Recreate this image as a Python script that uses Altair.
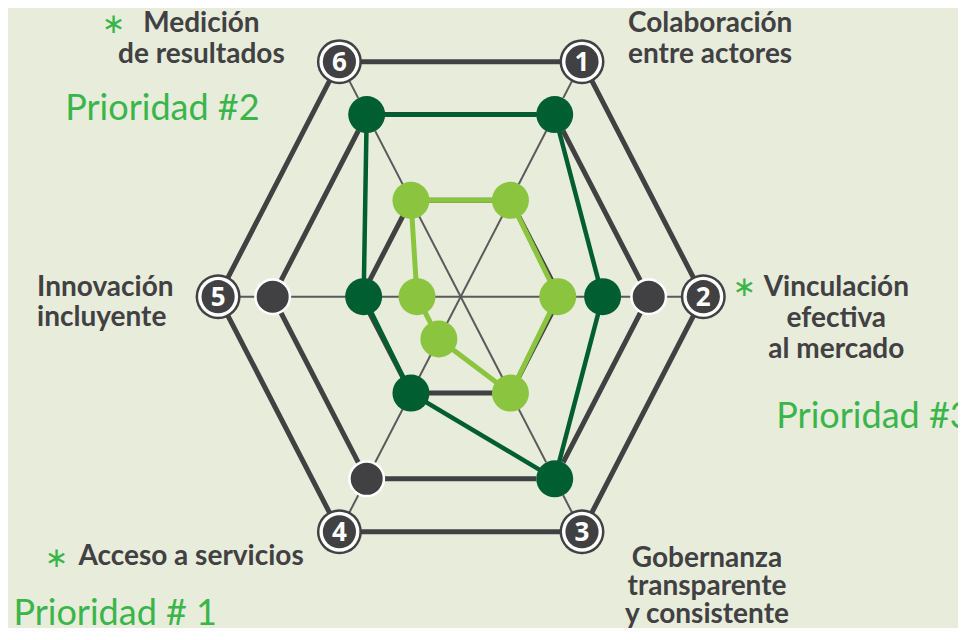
import altair as alt
import pandas as pd

# ---------------- data ----------------
axis_ids = [1, 2, 3, 4, 5, 6]
axis_labels = [
    "Colaboración\nentre actores",
    "Vinculación\nefectiva\nal mercado",
    "Gobernanza\ntransparente\ny consistente",
    "Acceso a servicios",
    "Innovación\nincluyente",
    "Medición\nde resultados",
]
ring_levels = [1.0, 0.775, 0.41]
benchmark_values = [0.775, 0.775, 0.775, 0.775, 0.775, 0.775]
dark_values = [0.775, 0.585, 0.775, 0.41, 0.40, 0.775]
light_values = [0.41, 0.40, 0.41, 0.18, 0.18, 0.41]
priority_texts = ["Prioridad # 1", "Prioridad #2", "Prioridad #3"]

# ---------------- style ----------------
BG = "#E8ECDB"
GRAY = "#414042"
SPOKE = "#5A5A5C"
DKGREEN = "#005E31"
LTGREEN = "#8BC53F"
PGREEN = "#3AB54A"
LABEL_FONT = "Lato"

W, H = 950, 620
cx, cy = 452.7, 288.7      # centre in plot pixels
ux, uy = 242.6, 271.4      # pixels per unit
xs = alt.Scale(domain=[-cx / ux, (W - cx) / ux], nice=False, zero=False)
ys = alt.Scale(domain=[-(H - cy) / uy, cy / uy], nice=False, zero=False)

THETA = "(60 - (datum.axis - 1) * 60) * PI / 180"


def geo(ch):
    return ch.transform_calculate(
        px=f"datum.value * cos({THETA})",
        py=f"datum.value * sin({THETA})",
    )


X = alt.X("px:Q", scale=xs, axis=None)
Y = alt.Y("py:Q", scale=ys, axis=None)


def closed(values, name):
    rows = []
    for k in range(7):
        i = k % 6
        rows.append({"axis": axis_ids[i], "value": values[i], "k": k, "s": name})
    return pd.DataFrame(rows)


# spokes
spoke_df = pd.DataFrame({"axis": axis_ids[:3], "value": [1.0, 1.0, 1.0]})
spokes = geo(alt.Chart(spoke_df)).transform_calculate(
    nx="-datum.px", ny="-datum.py"
).mark_rule(color=SPOKE, strokeWidth=2).encode(
    x=X, y=Y, x2="nx:Q", y2="ny:Q"
)

# ring hexagons
ring_df = pd.concat([closed([r] * 6, f"r{j}") for j, r in enumerate(ring_levels)])
rings = geo(alt.Chart(ring_df)).mark_line(
    color=GRAY, strokeWidth=5, strokeJoin="miter"
).encode(x=X, y=Y, order="k:Q", detail="s:N")

bench_df = pd.DataFrame({"axis": axis_ids, "value": benchmark_values})
bench_pts = geo(alt.Chart(bench_df)).mark_point(
    filled=True, fill=GRAY, stroke="white", strokeWidth=2.5, size=1190, opacity=1
).encode(x=X, y=Y)

dark_line = geo(alt.Chart(closed(dark_values, "dark"))).mark_line(
    color=DKGREEN, strokeWidth=4.5
).encode(x=X, y=Y, order="k:Q")
dark_pts = geo(alt.Chart(pd.DataFrame({"axis": axis_ids, "value": dark_values}))).mark_point(
    filled=True, fill=DKGREEN, size=1369, opacity=1
).encode(x=X, y=Y)

light_line = geo(alt.Chart(closed(light_values, "light"))).mark_line(
    color=LTGREEN, strokeWidth=5
).encode(x=X, y=Y, order="k:Q")
light_pts = geo(alt.Chart(pd.DataFrame({"axis": axis_ids, "value": light_values}))).mark_point(
    filled=True, fill=LTGREEN, size=1369, opacity=1
).encode(x=X, y=Y)

# numbered badges
badge_df = pd.DataFrame({"axis": axis_ids, "value": [1.0] * 6, "num": [str(a) for a in axis_ids]})
badge_base = geo(alt.Chart(badge_df))
badge1 = badge_base.mark_point(filled=True, fill=GRAY, size=2025, opacity=1).encode(x=X, y=Y)
badge2 = badge_base.mark_point(filled=True, fill="white", size=1600, opacity=1).encode(x=X, y=Y)
badge3 = badge_base.mark_point(filled=True, fill=GRAY, size=1100, opacity=1).encode(x=X, y=Y)
badge_txt = badge_base.mark_text(
    font="Open Sans", fontWeight="bold", fontSize=26, color="white", baseline="middle", dy=1
).encode(x=X, y=Y, text="num:N")


def txt(axis, text, align, dx, dy, size=28, color=GRAY, font=LABEL_FONT, weight="bold", lh=31):
    df = pd.DataFrame({"axis": [axis], "value": [1.0], "t": [text]})
    return geo(alt.Chart(df)).mark_text(
        align=align, baseline="middle", dx=dx, dy=dy, lineBreak="\n", lineHeight=lh,
        font=font, fontSize=size, fontWeight=weight, color=color,
    ).encode(x=X, y=Y, text="t:N")


labels = [
    txt(1, axis_labels[0], "left", 46, -38),
    txt(2, axis_labels[1], "center", 133, -9),
    txt(3, axis_labels[2], "center", 125, 27, lh=28),
    txt(4, axis_labels[3], "left", -261, 25),
    txt(5, axis_labels[4], "left", -181, -9, lh=30),
    txt(6, axis_labels[5], "center", -138, -38),
    txt(6, "∗", "center", -226, -37, size=28, color=PGREEN, font="DejaVu Sans", weight="normal"),
    txt(2, "∗", "center", 41, -9, size=28, color=PGREEN, font="DejaVu Sans", weight="normal"),
    txt(4, "∗", "center", -283, 27, size=28, color=PGREEN, font="DejaVu Sans", weight="normal"),
    txt(4, priority_texts[0], "left", -326, 82, size=36, color=PGREEN, weight="normal"),
    txt(6, priority_texts[1], "center", -177, 47, size=36, color=PGREEN, weight="normal"),
    txt(2, priority_texts[2], "left", 73, 120, size=36, color=PGREEN, weight="normal"),
]

chart = alt.layer(
    spokes, rings, bench_pts, dark_line, dark_pts, light_line, light_pts,
    badge1, badge2, badge3, badge_txt, *labels
).properties(
    width=W, height=H, background=BG, padding=0,
    autosize=alt.AutoSizeParams(type="none"),
).configure_view(stroke=None)

chart.save("out.html", embed_options={"renderer": "svg", "actions": False})
